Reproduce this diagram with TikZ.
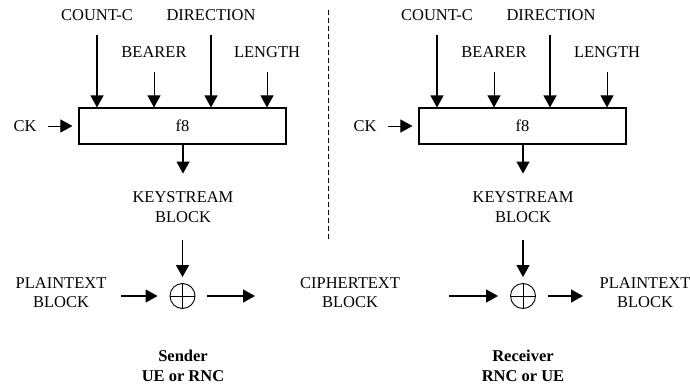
\documentclass[tikz,border=0pt]{standalone}
\usepackage{fontspec}
\setmainfont{Liberation Serif}
\usetikzlibrary{arrows.meta}
\begin{document}
\begin{tikzpicture}[x=1pt,y=-1pt,
  txt/.style={font=\fontsize{16.5}{19.5}\selectfont, inner sep=0pt, align=center},
  btxt/.style={font=\fontsize{16.5}{19.5}\selectfont\bfseries, inner sep=0pt, align=center},
  arr/.style={line width=1.3pt, -{Triangle[length=12pt,width=13pt]}},
  tarr/.style={line width=0.9pt, -{Triangle[length=12pt,width=13pt]}},
  f8box/.style={draw, line width=1.1pt, minimum width=207pt, minimum height=36pt, inner sep=0pt, font=\fontsize{16.5}{19.5}\selectfont},
  xorc/.style={draw, circle, line width=0.9pt, minimum size=25pt, inner sep=0pt, path picture={\draw[line width=0.9pt] (path picture bounding box.north) -- (path picture bounding box.south) (path picture bounding box.west) -- (path picture bounding box.east);}}
]
\useasboundingbox (0,0) rectangle (690,385);

% ---- Sender ----
\node[f8box] (fA) at (182.5,126) {f8};
\node[txt] (ckA) at (25,126) {CK};
\node[txt] (cntA) at (97,15) {COUNT-C};
\node[txt] (dirA) at (211,15) {DIRECTION};
\node[txt] (bearA) at (154,52) {BEARER};
\node[txt] (lenA) at (267,52) {LENGTH};
\coordinate (cntAs) at (97,35);
\coordinate (dirAs) at (211,35);
\coordinate (bearAs) at (154,72);
\coordinate (lenAs) at (267,72);
\coordinate (ckAs) at (48,126);
\draw[arr] (cntAs) -- (cntAs |- fA.north);
\draw[arr] (dirAs) -- (dirAs |- fA.north);
\draw[tarr] (bearAs) -- (bearAs |- fA.north);
\draw[tarr] (lenAs) -- (lenAs |- fA.north);
\draw[tarr] (ckAs) -- ([xshift=-6pt]fA.west);
\node[txt] (ksA) at (183,207) {KEYSTREAM\\BLOCK};
\draw[arr] (fA.south -| ksA.center) -- ++(0,29);
\node[xorc] (xA) at (182.5,296) {};
\coordinate (ksAs) at (182.5,240);
\draw[arr] (ksAs) -- ([yshift=6pt]xA.north);
\node[txt] (ptA) at (61,292.5) {PLAINTEXT\\BLOCK};
\coordinate (ptAe) at (121,296);
\draw[arr] (ptAe) -- ([xshift=-12pt]xA.west);
\coordinate (xAe) at (255,296);
\draw[arr] ([xshift=12pt]xA.east) -- (xAe);
\node[btxt] (sndA) at (183,366) {Sender\\UE or RNC};

% ---- Divider ----
\coordinate (dvT) at (328,10);
\coordinate (dvB) at (328,240);
\draw[dashed, dash pattern=on 5pt off 3pt, line width=0.7pt] (dvT) -- (dvB);

\node[txt] (ct) at (350,292.5) {CIPHERTEXT\\BLOCK};

% ---- Receiver ----
\node[f8box] (fB) at (522.5,126) {f8};
\node[txt] (ckB) at (365,126) {CK};
\node[txt] (cntB) at (437,15) {COUNT-C};
\node[txt] (dirB) at (551,15) {DIRECTION};
\node[txt] (bearB) at (494,52) {BEARER};
\node[txt] (lenB) at (607,52) {LENGTH};
\coordinate (cntBs) at (437,35);
\coordinate (dirBs) at (550,35);
\coordinate (bearBs) at (494,72);
\coordinate (lenBs) at (607,72);
\coordinate (ckBs) at (388,126);
\draw[arr] (cntBs) -- (cntBs |- fB.north);
\draw[arr] (dirBs) -- (dirBs |- fB.north);
\draw[tarr] (bearBs) -- (bearBs |- fB.north);
\draw[tarr] (lenBs) -- (lenBs |- fB.north);
\draw[tarr] (ckBs) -- ([xshift=-6pt]fB.west);
\node[txt] (ksB) at (523,207) {KEYSTREAM\\BLOCK};
\draw[arr] (fB.south -| ksB.center) -- ++(0,29);
\node[xorc] (xB) at (523,296) {};
\coordinate (ksBs) at (523,240);
\draw[arr] (ksBs) -- ([yshift=6pt]xB.north);
\coordinate (ctBe) at (449,296);
\draw[arr] (ctBe) -- ([xshift=-12pt]xB.west);
\node[txt] (ptB) at (645,292.5) {PLAINTEXT\\BLOCK};
\coordinate (xBe) at (583,296);
\draw[arr] ([xshift=12pt]xB.east) -- (xBe);
\node[btxt] (sndB) at (523,366) {Receiver\\RNC or UE};
\end{tikzpicture}
\end{document}
